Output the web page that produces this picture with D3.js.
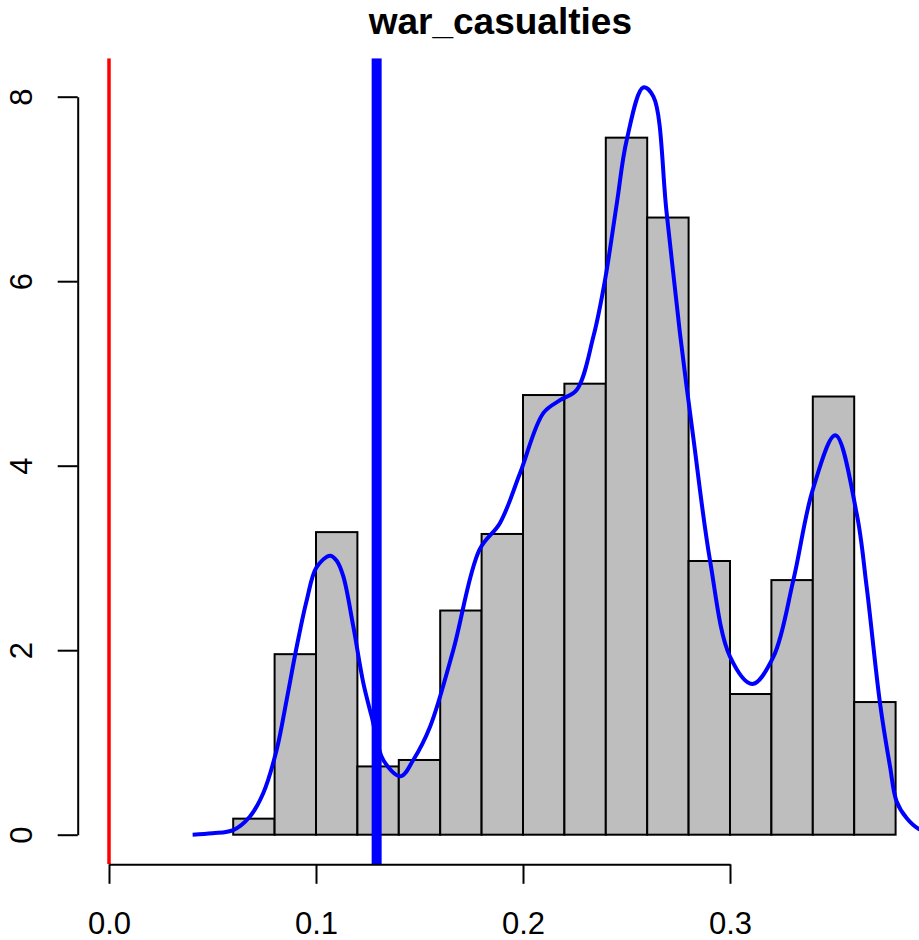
<!DOCTYPE html>
<html>
<head>
<meta charset="utf-8">
<script src="https://cdn.jsdelivr.net/npm/d3@7/dist/d3.min.js"></script>
<style>
  html, body { margin: 0; padding: 0; background: #fff; }
  svg text { font-family: "Liberation Sans", Arial, Helvetica, sans-serif; fill: #000; }
</style>
</head>
<body>
<svg id="chart" width="919" height="940"></svg>
<script>
// Histogram of war_casualties (density scale)
const binLeft  = [0.06, 0.08, 0.10, 0.12, 0.14, 0.16, 0.18, 0.20, 0.22, 0.24, 0.26, 0.28, 0.30, 0.32, 0.34, 0.36];
const binRight = [0.08, 0.10, 0.12, 0.14, 0.16, 0.18, 0.20, 0.22, 0.24, 0.26, 0.28, 0.30, 0.32, 0.34, 0.36, 0.38];
const binDensity = [0.174, 1.957, 3.28, 0.74, 0.81, 2.43, 3.26, 4.766, 4.889, 7.556, 6.69, 2.967, 1.525, 2.76, 4.75, 1.438];

// Kernel density estimate
const densX = [0.0404, 0.050, 0.060, 0.068, 0.0745, 0.081, 0.0858, 0.0907, 0.0955, 0.1003, 0.1068, 0.1100, 0.1132, 0.118, 0.1229, 0.1269, 0.1325, 0.1409, 0.147, 0.1551, 0.1663, 0.179, 0.1889, 0.1986, 0.2098, 0.2179, 0.2259, 0.234, 0.2396, 0.2453, 0.2501, 0.2581, 0.263, 0.2694, 0.2758, 0.2823, 0.2903, 0.300, 0.3108, 0.321, 0.3306, 0.340, 0.3509, 0.3612, 0.366, 0.3725, 0.3773, 0.3805, 0.3853, 0.391, 0.400, 0.410];
const densY = [0.0, 0.015, 0.05, 0.195, 0.45, 0.92, 1.46, 2.04, 2.54, 2.90, 3.025, 2.97, 2.80, 2.26, 1.64, 1.28, 0.81, 0.634, 0.81, 1.17, 2.0, 3.09, 3.38, 3.92, 4.57, 4.71, 4.82, 5.40, 6.01, 6.84, 7.53, 8.10, 8.0, 6.74, 5.44, 4.30, 2.98, 1.93, 1.634, 1.93, 2.76, 3.74, 4.33, 3.48, 2.69, 1.42, 0.74, 0.36, 0.18, 0.065, 0.005, 0.0];

// Reference lines
const refZero = 0.0;
const refMark = 0.1293;

const xTicks = [0.0, 0.1, 0.2, 0.3];
const yTicks = [0, 2, 4, 6, 8];
const title = "war_casualties";

const svg = d3.select("#chart");

const x = d3.scaleLinear().domain([0, 0.3]).range([109, 730]);
const y = d3.scaleLinear().domain([0, 8]).range([834.7, 96.7]);

// plot region
const plot = { left: 77.7, right: 923, top: 58.3, bottom: 864.3 };

svg.append("defs").append("clipPath").attr("id", "plotClip")
  .append("rect")
  .attr("x", plot.left).attr("y", plot.top)
  .attr("width", plot.right - plot.left).attr("height", plot.bottom - plot.top);

const g = svg.append("g").attr("clip-path", "url(#plotClip)");

// bars
g.selectAll("rect.bar")
  .data(binDensity.map((d, i) => ({ x0: binLeft[i], x1: binRight[i], d })))
  .join("rect")
  .attr("class", "bar")
  .attr("x", d => x(d.x0))
  .attr("width", d => x(d.x1) - x(d.x0))
  .attr("y", d => y(d.d))
  .attr("height", d => y(0) - y(d.d))
  .attr("fill", "#bebebe")
  .attr("stroke", "#000")
  .attr("stroke-width", 2);

// density curve
const line = d3.line()
  .x((d, i) => x(densX[i]))
  .y(d => y(d))
  .curve(d3.curveCatmullRom.alpha(0.5));

g.append("path")
  .datum(densY)
  .attr("d", line)
  .attr("fill", "none")
  .attr("stroke", "#0000ff")
  .attr("stroke-width", 4)
  .attr("stroke-linejoin", "round");

// vertical reference lines
g.append("line")
  .attr("x1", x(refZero)).attr("x2", x(refZero))
  .attr("y1", plot.top).attr("y2", plot.bottom)
  .attr("stroke", "#ff0000").attr("stroke-width", 3.5);

g.append("line")
  .attr("x1", x(refMark)).attr("x2", x(refMark))
  .attr("y1", plot.top).attr("y2", plot.bottom)
  .attr("stroke", "#0000ff").attr("stroke-width", 10);

// x axis
const xAxis = svg.append("g")
  .attr("transform", `translate(0,${plot.bottom})`)
  .call(d3.axisBottom(x).tickValues(xTicks).tickFormat(d3.format(".1f")).tickSize(19.5).tickSizeOuter(0));
xAxis.select(".domain").attr("stroke-width", 2);
xAxis.selectAll(".tick line").attr("stroke-width", 2);
xAxis.selectAll(".tick text")
  .attr("y", 69.7).attr("dy", 0)
  .attr("font-size", 31).attr("fill", "#000");

// y axis
const yAxis = svg.append("g")
  .attr("transform", `translate(${plot.left},0)`)
  .call(d3.axisLeft(y).tickValues(yTicks).tickFormat(d3.format("d")).tickSize(20).tickSizeOuter(0));
yAxis.select(".domain").attr("stroke-width", 2);
yAxis.selectAll(".tick line").attr("stroke-width", 2);
yAxis.selectAll(".tick text")
  .attr("x", null).attr("dy", 0)
  .attr("transform", "translate(-45.2,0) rotate(-90)")
  .attr("text-anchor", "middle")
  .attr("font-size", 31).attr("fill", "#000");

svg.selectAll(".domain, .tick line").attr("stroke", "#000");

// title
svg.append("text")
  .attr("x", (plot.left + plot.right) / 2)
  .attr("y", 33.5)
  .attr("text-anchor", "middle")
  .attr("font-size", 37)
  .attr("font-weight", "bold")
  .text(title);
</script>
</body>
</html>
